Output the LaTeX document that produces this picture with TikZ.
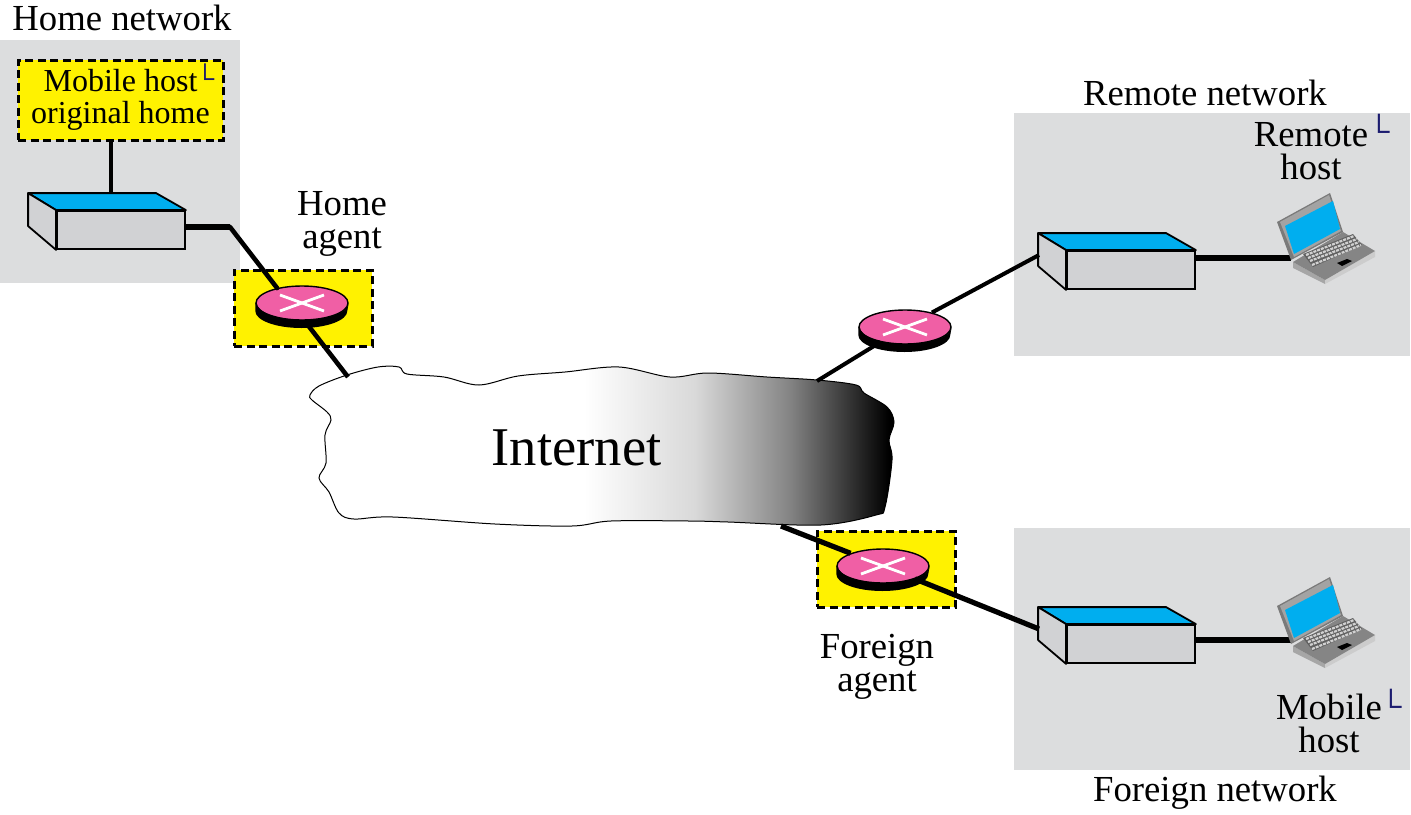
\documentclass[tikz,border=0pt]{standalone}
\usepackage{fontspec}
\setmainfont{Liberation Serif}
\usetikzlibrary{shapes.geometric}
\definecolor{netgray}{HTML}{DCDDDE}
\definecolor{agentyellow}{HTML}{FFF200}
\definecolor{switchblue}{HTML}{00AEEF}
\definecolor{switchgray}{HTML}{D1D2D4}
\definecolor{routerpink}{HTML}{F05FA5}
\definecolor{marknavy}{HTML}{1B1B6F}
\pgfdeclarehorizontalshading{cloudshade}{100bp}{color(0bp)=(white); color(48.5bp)=(white); color(58bp)=(black!15); color(66bp)=(black!48); color(74.5bp)=(black!100); color(100bp)=(black)}
\tikzset{
  agentbox/.style={fill=agentyellow,draw=black,line width=3pt,dash pattern=on 8pt off 4.5pt,inner sep=0},
  switchbox/.style={draw=black,fill=switchgray,line width=1.8pt,minimum width=128,minimum height=38,inner sep=0},
  switchtop/.style={draw=black,fill=switchblue,line width=1.8pt,line join=round},
  switchside/.style={draw=black,fill=switchgray,line width=1.8pt,line join=round},
  router/.style={shape=ellipse,draw=black,fill=routerpink,line width=1.4pt,minimum width=92,minimum height=34,inner sep=0},
  routercross/.style={draw=white,line width=2.8pt},
  thinlink/.style={draw=black,line width=3.4pt},
  thicklink/.style={draw=black,line width=5.2pt},
  txt/.style={font=\fontsize{36.7}{33}\selectfont,align=center,inner sep=0},
  smalltxt/.style={font=\fontsize{32}{32}\selectfont,align=center},
  hostmark/.style={font=\fontsize{#1}{#1}\selectfont,text=marknavy,inner sep=0},
  laptop/.pic={
    % lid
    \fill[black!52] (0,0) -- (53,-29) -- (66,10) -- (14,38) -- cycle;
    \fill[black!36] (3,0) -- (52,-27) -- (64,9) -- (17,35) -- cycle;
    \fill[switchblue] (8,4) -- (56,-21) -- (63,7) -- (17,32) -- cycle;
    % base
    \fill[black!35] (16,40) -- (16,46) -- (48,62) -- (48,58) -- cycle;
    \fill[black!20] (48,58) -- (48,62) -- (98,35) -- (98,29) -- cycle;
    \fill[black!48] (16,40) -- (66,10) -- (98,29) -- (48,58) -- cycle;
    % keys
    \fill[black!62] (26,32) -- (76,12) -- (85,23) -- (36,45) -- cycle;
    \draw[black!18,line width=2.2pt,dash pattern=on 3pt off 1pt] (29,33) -- (77,14);
    \draw[black!18,line width=2.2pt,dash pattern=on 3pt off 1pt] (31,36) -- (80,17);
    \draw[black!18,line width=2.2pt,dash pattern=on 3pt off 1pt] (33,39) -- (82,20);
    \draw[black!18,line width=2.2pt,dash pattern=on 3pt off 1pt] (35,43) -- (84,23);
    \fill[black] (60,41) -- (70,37) -- (75,39) -- (65,44) -- cycle;
  }
}
\newcommand{\routerbase}[1]{\fill[black] (#1.west) -- ++(0,8) arc[x radius=46,y radius=17,start angle=180,end angle=0] -- (#1.east) arc[x radius=46,y radius=17,start angle=0,end angle=180] -- cycle;}
\begin{document}
\begin{tikzpicture}[x=1pt,y=-1pt]
  \useasboundingbox (0,0) rectangle (1411,814);

  % networks
  \fill[netgray] (0,40) rectangle (240,283);
  \fill[netgray] (1014,113) rectangle (1410,356);
  \fill[netgray] (1014,528) rectangle (1410,770);

  % internet
  \path[draw=black,line width=1pt,shading=cloudshade] plot[smooth cycle,tension=0.55] coordinates {
    (310,395) (319,386) (347,375) (378,367) (399,367) (407,374) (444,377) (479,385)
    (518,376) (565,372) (619,367) (670,377) (708,373) (767,377) (817,380) (856,385)
    (864,393) (887,407) (894,422) (889,440) (892,460) (885,507) (876,515) (821,525)
    (728,522) (689,521) (611,521) (572,526) (495,524) (393,517) (354,519) (339,513)
    (329,492) (319,478) (326,463) (325,435) (331,420) (327,412) (312,400)};
  \node[font=\fontsize{54.6}{54}\selectfont,inner sep=0] (inet) at (576.5,448) {Internet};
  \coordinate (inetha) at (348,377);
  \coordinate (inetra) at (817,381);
  \coordinate (inetfa) at (781,526);

  % agents
  \node[agentbox,smalltxt,minimum width=205,minimum height=80] (mhome) at (120.5,100) {Mobile host\\original home};
  \node[agentbox,minimum width=138,minimum height=76] (hayellow) at (303,308) {};
  \node[agentbox,minimum width=138,minimum height=76] (fayellow) at (886,569) {};

  % switches
  \node[switchbox] (sw1) at (121,230) {};
  \draw[switchtop] (sw1.north west) -- ++(-28,-17) -- ++(128,0) -- (sw1.north east) -- cycle;
  \draw[switchside] (sw1.north west) -- ++(-28,-17) -- ++(0,33) -- (sw1.south west) -- cycle;
  \node[switchbox] (sw2) at (1131,270) {};
  \draw[switchtop] (sw2.north west) -- ++(-28,-17) -- ++(128,0) -- (sw2.north east) -- cycle;
  \draw[switchside] (sw2.north west) -- ++(-28,-17) -- ++(0,33) -- (sw2.south west) -- cycle;
  \node[switchbox] (sw3) at (1131,644) {};
  \draw[switchtop] (sw3.north west) -- ++(-28,-17) -- ++(128,0) -- (sw3.north east) -- cycle;
  \draw[switchside] (sw3.north west) -- ++(-28,-17) -- ++(0,33) -- (sw3.south west) -- cycle;

  % routers
  \node[router] (rha) at (302,303) {};
  \routerbase{rha}
  \draw[routercross] ([shift={(-22,-8)}]rha.center) -- ([shift={(22,8)}]rha.center);
  \draw[routercross] ([shift={(-22,8)}]rha.center) -- ([shift={(22,-8)}]rha.center);
  \node[router] (rra) at (905,327) {};
  \routerbase{rra}
  \draw[routercross] ([shift={(-22,-8)}]rra.center) -- ([shift={(22,8)}]rra.center);
  \draw[routercross] ([shift={(-22,8)}]rra.center) -- ([shift={(22,-8)}]rra.center);
  \node[router] (rfa) at (883,566) {};
  \routerbase{rfa}
  \draw[routercross] ([shift={(-22,-8)}]rfa.center) -- ([shift={(22,8)}]rfa.center);
  \draw[routercross] ([shift={(-22,8)}]rfa.center) -- ([shift={(22,-8)}]rfa.center);

  % links
  \coordinate (sw1top) at (111,194);
  \coordinate (bendha) at (230,227);
  \coordinate (sw2in) at (1039,255);
  \coordinate (sw3in) at (1039,629);
  \coordinate (lap2) at (1291,258);
  \coordinate (lap3) at (1291,640);
  \path[thinlink] (mhome.south -| sw1top) -- (sw1top);
  \path[thicklink] (bendha -| sw1.east) -- (bendha);
  \path[thinlink,line width=4.6pt,line cap=round] (bendha) -- (rha.149);
  \path[thinlink,line width=4.6pt] (rha.-82) -- (inetha);
  \path[thinlink,line width=4pt] (inetra) -- (rra);
  \path[thinlink,line width=4pt] (rra) -- (sw2in);
  \path[thicklink] (inetfa) -- (rfa);
  \path[thicklink] (rfa) -- (sw3in);
  \path[thicklink] (lap2 -| sw2.east) -- (lap2);
  \path[thicklink] (lap3 -| sw3.east) -- (lap3);

  % laptops
  \pic at (1277,222) {laptop};
  \pic at (1277,606) {laptop};

  % labels
  \node[txt] (hntext) at (122,18) {Home network};
  \node[txt] (rntext) at (1205,92.5) {Remote network};
  \node[txt] (fntext) at (1215,793) {Foreign network};
  \node[txt] (hatext) at (342,224) {Home\\agent};
  \node[txt] (fatext) at (877,667) {Foreign\\agent};
  \node[txt] (rhtext) at (1311,151) {Remote\\host};
  \node[txt] (mhtext) at (1329,723) {Mobile\\host};
  \node[hostmark=26] (mk1) at (205,76) {└};
  \node[hostmark=30] (mk2) at (1379,128) {└};
  \node[hostmark=30] (mk3) at (1391,703) {└};
\end{tikzpicture}
\end{document}
